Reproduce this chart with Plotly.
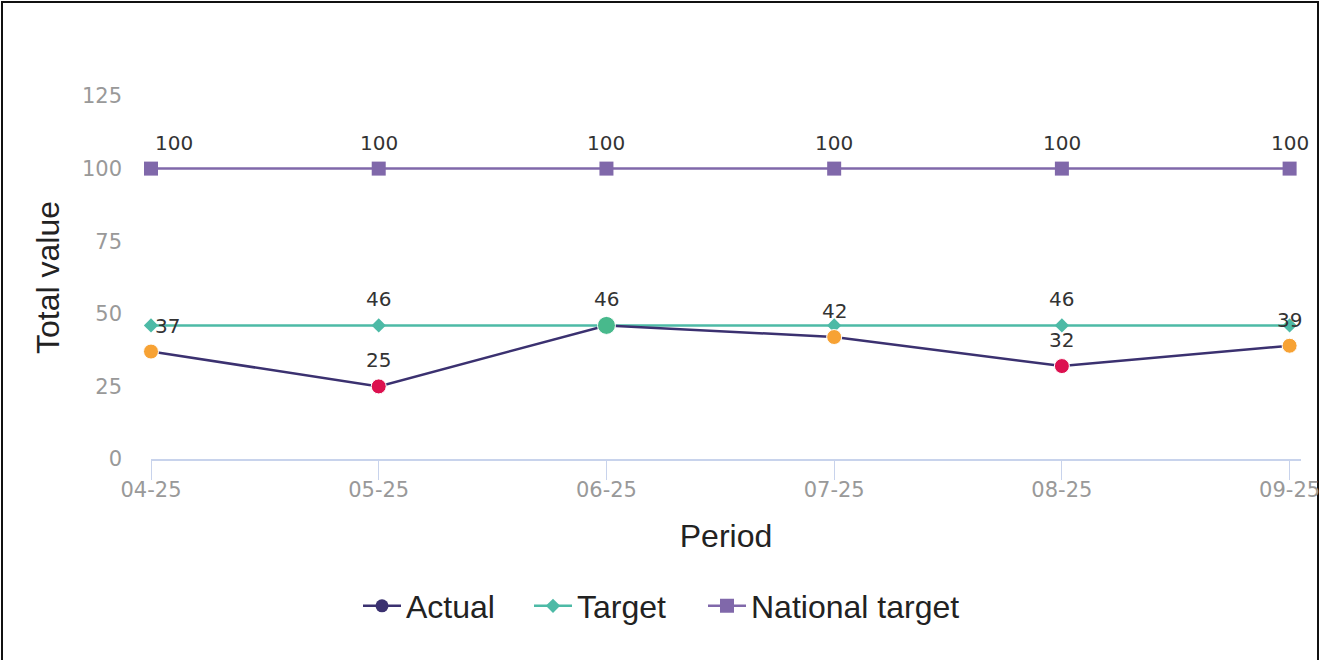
import plotly.graph_objects as go

periods = ["04-25", "05-25", "06-25", "07-25", "08-25", "09-25"]
actual = [37, 25, 46, 42, 32, 39]
target = [46, 46, 46, 46, 46, 46]
national = [100, 100, 100, 100, 100, 100]
# RAG colour of each actual point
actual_point_colors = ["#f7a234", "#dc104f", "#48b98c", "#f7a234", "#dc104f", "#f7a234"]
actual_point_sizes = [15, 15, 18, 15, 15, 15]
target_labels = ["", "46", "", "", "46", ""]

W, H = 1321, 660
ML, MR, MT, MB = 151, 20, 96, 201
pw, ph = W - ML - MR, H - MT - MB

x = list(range(len(periods)))
lab_font = dict(family="DejaVu Sans", size=20, color="#333333")
tick_font = dict(family="DejaVu Sans", size=21, color="#999999")
big_font = dict(family="Liberation Sans", size=32, color="#222222")

fig = go.Figure()
fig.add_trace(go.Scatter(
    x=x, y=national, name="National target", mode="lines+markers", legend="legend3",
    line=dict(color="#8068aa", width=2.5),
    marker=dict(symbol="square", size=14, color="#8068aa"), cliponaxis=False,
))
fig.add_trace(go.Scatter(
    x=x, y=target, name="Target", mode="lines+markers", legend="legend2",
    line=dict(color="#4dbaa6", width=2.5),
    marker=dict(symbol="diamond", size=11, color="#4dbaa6"), cliponaxis=False,
))
fig.add_trace(go.Scatter(
    x=x, y=actual, name="Actual", mode="lines+markers", legend="legend",
    line=dict(color="#3b3170", width=2.5),
    marker=dict(size=13, color="#3b3170"), cliponaxis=False,
))
fig.add_trace(go.Scatter(
    x=x, y=actual, mode="markers", showlegend=False, hoverinfo="skip",
    marker=dict(size=actual_point_sizes, color=actual_point_colors, opacity=1),
    cliponaxis=False,
))

# value labels above the points
for ys, txt in [(national, [str(v) for v in national]),
                (target, target_labels),
                (actual, [str(v) for v in actual])]:
    for i, (yv, t) in enumerate(zip(ys, txt)):
        if not t:
            continue
        fig.add_annotation(x=i, y=yv, text=t, showarrow=False, font=lab_font,
                           xanchor="left" if i == 0 else "center",
                           xshift=2 if i == 0 else 0, yshift=26, yanchor="middle")

fig.update_xaxes(
    range=[0, 5.05], tickvals=x, ticktext=periods, automargin=False,
    showline=True, linecolor="#c8d3ec", linewidth=1.5,
    ticks="outside", ticklen=19, tickcolor="#c8d3ec",
    ticklabelstandoff=-8,
    showgrid=False, zeroline=False, tickfont=tick_font,
    title=dict(text="Period", font=big_font, standoff=24),
)
fig.update_yaxes(
    range=[0, 125], tickvals=[0, 25, 50, 75, 100, 125], automargin=False,
    showline=False, showgrid=False, zeroline=False, ticks="",
    ticklabelstandoff=28, tickfont=tick_font,
    title=dict(text="Total value", font=big_font, standoff=12),
)

# black frame around the whole card
fig.add_shape(type="rect", xref="paper", yref="paper",
              x0=(2 - ML) / pw, x1=(W - 3 - ML) / pw,
              y0=(H - MB - (H + 5)) / ph, y1=(H - MB - 2) / ph,
              line=dict(color="#111111", width=2), layer="below")

leg = dict(orientation="h", xanchor="left", yanchor="middle",
           y=(H - MB - 606) / ph, font=big_font, itemwidth=38, bgcolor="rgba(0,0,0,0)")
fig.update_layout(
    width=W, height=H,
    margin=dict(l=ML, r=MR, t=MT, b=MB),
    paper_bgcolor="white", plot_bgcolor="white",
    showlegend=True,
    legend=dict(leg, x=(358 - ML) / pw),
    legend2=dict(leg, x=(529 - ML) / pw),
    legend3=dict(leg, x=(703 - ML) / pw),
)
fig.write_html("out.html", config={"displayModeBar": False},
               post_script="document.body.style.margin='0';")
